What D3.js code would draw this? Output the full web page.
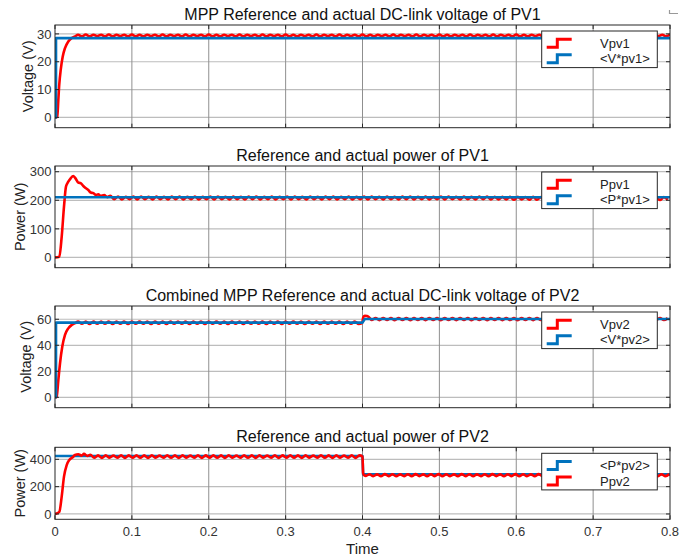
<!DOCTYPE html>
<html>
<head>
<meta charset="utf-8">
<script src="https://cdn.jsdelivr.net/npm/d3@7"></script>
<style>
    body { margin: 0; background: #fff; }
    text { font-family: "Liberation Sans", Arial, sans-serif; }
</style>
</head>
<body>
<div id="chart"></div>
<script>
'use strict'

////////////////////////////////////
///////////// data /////////////////
////////////////////////////////////

const xTicks = [0, 0.1, 0.2, 0.3, 0.4, 0.5, 0.6, 0.7, 0.8]
const ripStep = 0.005   // spacing of the ripple samples

// PV1 voltage
const vpv1Rise = [[0, 0], [0.001, 0], [0.003, 0.3], [0.0043, 6.2], [0.0056, 12], [0.0074, 17],
    [0.01, 21.8], [0.013, 24.9], [0.0173, 27.3], [0.0217, 28.5], [0.026, 29.1]]
const vpv1RippleStart = 0.03
const vpv1Ripple = [
    29.7, 29.1, 29.8, 29.1, 29.7, 29.2, 29.7, 29.1, 29.8, 29.1,
    29.7, 29.2, 29.7, 29.1, 29.8, 29.1, 29.7, 29.1, 29.7, 29.2,
    29.7, 29.1, 29.8, 29.1, 29.7, 29.2, 29.7, 29.1, 29.8, 29.1,
    29.7, 29.2, 29.7, 29.1, 29.8, 29.1, 29.7, 29.1, 29.7, 29.2,
    29.7, 29.1, 29.8, 29.1, 29.7, 29.2, 29.7, 29.1, 29.8, 29.1,
    29.7, 29.2, 29.7, 29.1, 29.8, 29.1, 29.7, 29.1, 29.7, 29.2,
    29.7, 29.1, 29.8, 29.1, 29.7, 29.2, 29.7, 29.1, 29.8, 29.1,
    29.7, 29.2, 29.7, 29.1, 29.8, 29.1, 29.7, 29.1, 29.7, 29.2,
    29.7, 29.1, 29.8, 29.1, 29.7, 29.2, 29.7, 29.1, 29.8, 29.1,
    29.7, 29.2, 29.7, 29.1, 29.8, 29.1, 29.7, 29.1, 29.7, 29.2,
    29.7, 29.1, 29.8, 29.1, 29.7, 29.2, 29.7, 29.1, 29.8, 29.1,
    29.7, 29.2, 29.7, 29.1, 29.8, 29.1, 29.7, 29.1, 29.7, 29.2,
    29.7, 29.1, 29.8, 29.1, 29.7, 29.2, 29.7, 29.1, 29.8, 29.1,
    29.7, 29.2, 29.7, 29.1, 29.8, 29.1, 29.7, 29.1, 29.7, 29.2,
    29.7, 29.1, 29.8, 29.1, 29.7, 29.2, 29.7, 29.1, 29.8, 29.1,
    29.7, 29.2, 29.7, 29.1, 29.8, 29.1, 29.7, 29.1, 29.7, 29.2]
const vRefPv1 = [[0, 0], [0.0013, 0], [0.0013, 28.5], [0.8, 28.5]]

// PV1 power
const ppv1Rise = [[0, 0], [0.001, 0], [0.0056, 2], [0.0087, 72], [0.0117, 178], [0.0143, 248],
    [0.0173, 265], [0.0204, 277], [0.0238, 285], [0.0273, 274], [0.0303, 262], [0.0334, 260],
    [0.0368, 250], [0.0403, 242], [0.0433, 236], [0.0464, 227], [0.05, 225], [0.0533, 218],
    [0.0563, 221], [0.0594, 215], [0.064, 218], [0.068, 211], [0.072, 216]]
const ppv1RippleStart = 0.077
const ppv1Ripple = [
    204, 213, 203, 212, 204, 213, 203, 213, 204, 212,
    203, 213, 204, 212, 203, 213, 204, 213, 203, 212,
    204, 213, 203, 212, 204, 213, 203, 213, 204, 212,
    203, 213, 204, 212, 203, 213, 204, 213, 203, 212,
    204, 213, 203, 212, 204, 213, 203, 213, 204, 212,
    203, 213, 204, 212, 203, 213, 204, 213, 203, 212,
    204, 213, 203, 212, 204, 213, 203, 213, 204, 212,
    203, 213, 204, 212, 203, 213, 204, 213, 203, 212,
    204, 213, 203, 212, 204, 213, 203, 213, 204, 212,
    203, 213, 204, 212, 203, 213, 204, 213, 203, 212,
    203, 212, 203, 212, 202, 212, 203, 211, 202, 212,
    202, 211, 201, 211, 202, 210, 201, 211, 202, 211,
    202, 211, 201, 211, 202, 210, 201, 211, 202, 211,
    202, 211, 201, 211, 202, 210, 201, 211, 202, 211,
    202, 211, 201, 211, 202, 210, 201, 211, 202, 211]
const pRefPv1 = [[0, 210.5], [0.8, 210.5]]

// PV2 voltage
const vpv2Rise = [[0, 0], [0.001, 0], [0.0022, 0.5], [0.0043, 13], [0.0065, 26], [0.0095, 39],
    [0.013, 48], [0.0173, 53], [0.0217, 55.6], [0.026, 57]]
const vpv2RippleStartA = 0.03
const vpv2RippleA = [
    58.2, 56.5, 58.3, 56.4, 58.2, 56.5, 58.3, 56.5, 58.2, 56.4,
    58.3, 56.5, 58.2, 56.4, 58.3, 56.5, 58.2, 56.5, 58.3, 56.4,
    58.2, 56.5, 58.3, 56.4, 58.2, 56.5, 58.3, 56.5, 58.2, 56.4,
    58.3, 56.5, 58.2, 56.4, 58.3, 56.5, 58.2, 56.5, 58.3, 56.4,
    58.2, 56.5, 58.3, 56.4, 58.2, 56.5, 58.3, 56.5, 58.2, 56.4,
    58.3, 56.5, 58.2, 56.4, 58.3, 56.5, 58.2, 56.5, 58.3, 56.4,
    58.2, 56.5, 58.3, 56.4, 58.2, 56.5, 58.3, 56.5, 58.2, 56.4,
    58.3, 56.5, 58.2, 56.4, 58.3, 56.5, 58.2, 56.5, 58.3, 56.4]
const vpv2Jump = [[0.3995, 57.0], [0.401, 61.5], [0.403, 62.7], [0.406, 62.5], [0.409, 61.2]]
const vpv2RippleStartB = 0.412
const vpv2RippleB = [
    59.4, 61.0, 59.3, 61.0, 59.4, 60.9, 59.3, 61.0, 59.4, 61.0,
    59.3, 60.9, 59.4, 61.0, 59.3, 61.0, 59.4, 60.9, 59.3, 61.0,
    59.4, 61.0, 59.3, 61.0, 59.4, 60.9, 59.3, 61.0, 59.4, 61.0,
    59.3, 60.9, 59.4, 61.0, 59.3, 61.0, 59.4, 60.9, 59.3, 61.0,
    59.4, 61.0, 59.3, 61.0, 59.4, 60.9, 59.3, 61.0, 59.4, 61.0,
    59.3, 60.9, 59.4, 61.0, 59.3, 61.0, 59.4, 60.9, 59.3, 61.0,
    59.4, 61.0, 59.3, 61.0, 59.4, 60.9, 59.3, 61.0, 59.4, 61.0,
    59.3, 60.9, 59.4, 61.0, 59.3, 61.0, 59.4, 60.9, 59.3, 61.0]
const vRefPv2 = [[0, 0], [0.0013, 0], [0.0013, 57.4], [0.4, 57.4], [0.403, 60.2], [0.8, 60.2]]

// PV2 power
const ppv2Rise = [[0, 0], [0.001, 2], [0.0056, 15], [0.0087, 127], [0.0117, 273], [0.0152, 358],
    [0.0186, 395], [0.023, 415], [0.026, 432], [0.0303, 437], [0.0346, 427], [0.0377, 440],
    [0.042, 425], [0.046, 434]]
const ppv2RippleStartA = 0.051
const ppv2RippleA = [
    411, 429, 410, 430, 412, 428, 411, 430, 410, 429,
    412, 430, 411, 429, 410, 430, 412, 428, 411, 430,
    411, 429, 410, 430, 412, 428, 411, 430, 410, 429,
    412, 430, 411, 429, 410, 430, 412, 428, 411, 430,
    411, 429, 410, 430, 412, 428, 411, 430, 410, 429,
    412, 430, 411, 429, 410, 430, 412, 428, 411, 430,
    411, 429, 410, 430, 412, 428, 411, 430, 410, 429]
const ppv2Jump = [[0.4, 421], [0.4008, 300], [0.402, 284], [0.4045, 279]]
const ppv2RippleStartB = 0.409
const ppv2RippleB = [
    291, 277, 290, 276, 292, 277, 291, 276, 290, 277,
    291, 276, 292, 277, 290, 276, 291, 277, 292, 276,
    291, 277, 290, 276, 292, 277, 291, 276, 290, 277,
    291, 276, 292, 277, 290, 276, 291, 277, 292, 276,
    291, 277, 290, 276, 292, 277, 291, 276, 290, 277,
    291, 276, 292, 277, 290, 276, 291, 277, 292, 276,
    291, 277, 290, 276, 292, 277, 291, 276, 290, 277,
    291, 276, 292, 277, 290, 276, 291, 277, 292, 276]
const pRefPv2 = [[0, 424], [0.4, 424], [0.4008, 290], [0.8, 290]]

////////////////////////////////////
//////////// wrangle ///////////////
////////////////////////////////////

// ripple samples sit on a regular time step starting at `start`
const onGrid = (start, vals, until) => vals
    .map((v, i) => [start + i * ripStep, v])
    .filter(d => d[0] <= until + 1e-9)

const vpv1 = [...vpv1Rise, ...onGrid(vpv1RippleStart, vpv1Ripple, 0.8)]
const ppv1 = [...ppv1Rise, ...onGrid(ppv1RippleStart, ppv1Ripple, 0.8)]
const vpv2 = [...vpv2Rise, ...onGrid(vpv2RippleStartA, vpv2RippleA, 0.398), ...vpv2Jump,
    ...onGrid(vpv2RippleStartB, vpv2RippleB, 0.8)]
const ppv2 = [...ppv2Rise, ...onGrid(ppv2RippleStartA, ppv2RippleA, 0.398), ...ppv2Jump,
    ...onGrid(ppv2RippleStartB, ppv2RippleB, 0.8)]

const red = '#ff0000'
const blue = '#0072bd'

const panels = [
    {
        title: 'MPP Reference and actual DC-link voltage of PV1',
        ylabel: 'Voltage (V)', labelX: 28,
        top: 25, bottom: 127.7, yDomain: [-3.7, 33.2], yTicks: [0, 10, 20, 30],
        series: [
            { name: 'Vpv1', data: vpv1, color: red, smooth: true },
            { name: '<V*pv1>', data: vRefPv1, color: blue }
        ]
    },
    {
        title: 'Reference and actual power of PV1',
        ylabel: 'Power (W)', labelX: 20,
        top: 166, bottom: 267.7, yDomain: [-36, 320], yTicks: [0, 100, 200, 300],
        series: [
            { name: 'Ppv1', data: ppv1, color: red, smooth: true },
            { name: '<P*pv1>', data: pRefPv1, color: blue }
        ]
    },
    {
        title: 'Combined MPP Reference and actual DC-link voltage of PV2',
        ylabel: 'Voltage (V)', labelX: 26,
        top: 306, bottom: 407.7, yDomain: [-8, 70.2], yTicks: [0, 20, 40, 60],
        series: [
            { name: 'Vpv2', data: vpv2, color: red, smooth: true },
            { name: '<V*pv2>', data: vRefPv2, color: blue }
        ]
    },
    {
        title: 'Reference and actual power of PV2',
        ylabel: 'Power (W)', labelX: 20,
        top: 447.3, bottom: 519.3, yDomain: [-39, 488], yTicks: [0, 200, 400],
        series: [
            { name: '<P*pv2>', data: pRefPv2, color: blue },
            { name: 'Ppv2', data: ppv2, color: red, smooth: true }
        ]
    }
]

////////////////////////////////////
//////////// svg setup /////////////
////////////////////////////////////

const svgWidth = 681
const svgHeight = 560
const left = 55
const right = 670

const svg = d3.select('#chart')
    .append('svg')
    .attr('width', svgWidth)
    .attr('height', svgHeight)

const x = d3.scaleLinear().domain([0, 0.8]).range([left, right])

const tickFmt = d => d === 0 ? '0' : d3.format('.1f')(d)

panels.forEach((p, pi) => {
    const y = d3.scaleLinear().domain(p.yDomain).range([p.bottom, p.top])
    const g = svg.append('g')

    g.append('clipPath').attr('id', 'clip' + pi)
        .append('rect')
        .attr('x', left).attr('y', p.top)
        .attr('width', right - left).attr('height', p.bottom - p.top)

    // grid
    g.append('g').selectAll('line')
        .data(p.yTicks)
        .join('line')
        .attr('x1', left).attr('x2', right)
        .attr('y1', d => y(d)).attr('y2', d => y(d))
        .attr('stroke', '#bdbdbd').attr('stroke-width', 1.2)

    g.append('g').selectAll('line')
        .data(xTicks.slice(1, -1))
        .join('line')
        .attr('x1', d => x(d)).attr('x2', d => x(d))
        .attr('y1', p.top).attr('y2', p.bottom)
        .attr('stroke', '#8f8f8f').attr('stroke-width', 1)

    // traces
    const plot = g.append('g').attr('clip-path', `url(#clip${pi})`)
    p.series.forEach(s => {
        const line = d3.line()
            .x(d => x(d[0]))
            .y(d => y(d[1]))
            .curve(s.smooth ? d3.curveMonotoneX : d3.curveLinear)
        plot.append('path')
            .datum(s.data)
            .attr('d', line)
            .attr('fill', 'none')
            .attr('stroke', s.color)
            .attr('stroke-width', 2.6)
            .attr('stroke-linejoin', 'round')
    })

    // box + inward ticks
    g.append('rect')
        .attr('x', left).attr('y', p.top)
        .attr('width', right - left).attr('height', p.bottom - p.top)
        .attr('fill', 'none').attr('stroke', '#262626').attr('stroke-width', 1)

    const tk = 4
    const ticks = g.append('g').attr('stroke', '#262626').attr('stroke-width', 1)
    xTicks.forEach(t => {
        ticks.append('line').attr('x1', x(t)).attr('x2', x(t)).attr('y1', p.bottom).attr('y2', p.bottom - tk)
        ticks.append('line').attr('x1', x(t)).attr('x2', x(t)).attr('y1', p.top).attr('y2', p.top + tk)
    })
    p.yTicks.forEach(t => {
        ticks.append('line').attr('x1', left).attr('x2', left + tk).attr('y1', y(t)).attr('y2', y(t))
        ticks.append('line').attr('x1', right).attr('x2', right - tk).attr('y1', y(t)).attr('y2', y(t))
    })

    // y tick labels
    g.append('g').selectAll('text')
        .data(p.yTicks)
        .join('text')
        .attr('x', 51.5)
        .attr('y', d => y(d))
        .attr('dy', '0.36em')
        .attr('text-anchor', 'end')
        .attr('font-size', 13)
        .attr('fill', '#333')
        .text(d => d)

    // y label
    g.append('text')
        .attr('transform', `translate(${p.labelX},${(p.top + p.bottom) / 2}) rotate(-90)`)
        .attr('dy', '0.35em')
        .attr('text-anchor', 'middle')
        .attr('font-size', 14.5)
        .attr('fill', '#222')
        .text(p.ylabel)

    // title
    g.append('text')
        .attr('x', (left + right) / 2)
        .attr('y', p.top - 5)
        .attr('text-anchor', 'middle')
        .attr('font-size', 16)
        .attr('fill', '#111')
        .text(p.title)

    // legend
    const lg = g.append('g').attr('transform', `translate(541.7,${p.top + 6})`)
    lg.append('rect')
        .attr('width', 115.6).attr('height', 36.6)
        .attr('fill', '#fff').attr('stroke', '#262626').attr('stroke-width', 1)
    p.series.forEach((s, i) => {
        const cy = 12.3 + i * 15.5
        lg.append('path')
            .attr('d', `M5,${cy + 4}H15.6V${cy - 4}H30`)
            .attr('fill', 'none')
            .attr('stroke', s.color)
            .attr('stroke-width', 3)
        lg.append('text')
            .attr('x', 58.3)
            .attr('y', cy)
            .attr('dy', '0.36em')
            .attr('font-size', 13)
            .attr('fill', '#222')
            .text(s.name)
    })

    // x tick labels on the last panel only
    if (pi === panels.length - 1) {
        g.append('g').selectAll('text')
            .data(xTicks)
            .join('text')
            .attr('x', d => x(d))
            .attr('y', 535.5)
            .attr('text-anchor', 'middle')
            .attr('font-size', 13)
            .attr('fill', '#333')
            .text(tickFmt)

        g.append('text')
            .attr('x', (left + right) / 2)
            .attr('y', 553.5)
            .attr('text-anchor', 'middle')
            .attr('font-size', 15)
            .attr('fill', '#222')
            .text('Time')
    }
})

// small figure-window mark in the top right corner
svg.append('path')
    .attr('d', 'M669.5,10V13.5H678')
    .attr('fill', 'none')
    .attr('stroke', '#999')
    .attr('stroke-width', 1.2)
</script>
</body>
</html>
